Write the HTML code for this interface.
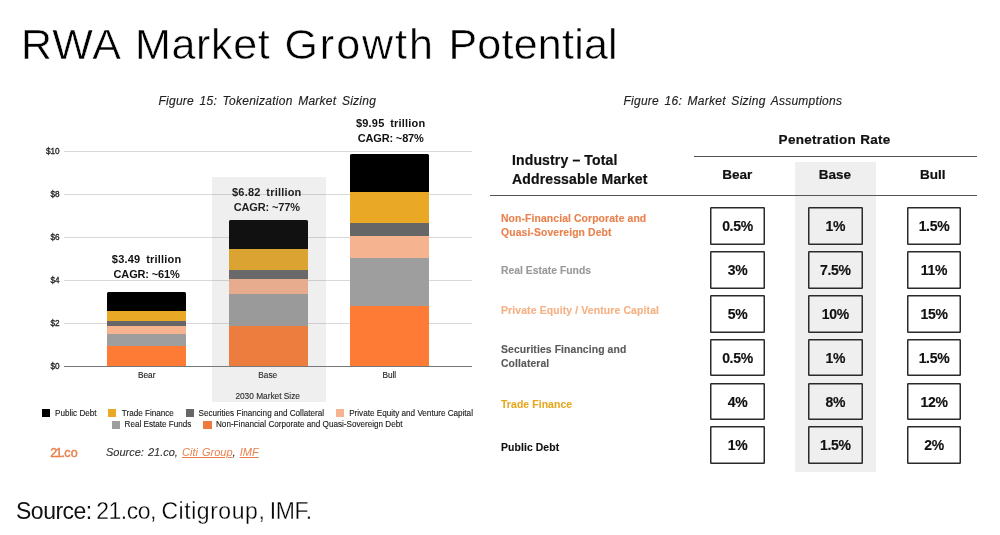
<!DOCTYPE html>
<html lang="en">
<head>
<meta charset="utf-8">
<title>RWA Market Growth Potential</title>
<style>
html,body{margin:0;padding:0;background:#fff;}
body{width:1000px;height:535px;position:relative;overflow:hidden;font-family:"Liberation Sans",sans-serif;color:#111;}
.abs{position:absolute;white-space:nowrap;line-height:1;}
.abs span.w{position:absolute;top:0;}
h1.title{position:absolute;left:0;top:23px;margin:0;font-weight:normal;font-size:43px;line-height:1;white-space:nowrap;color:#000;-webkit-text-stroke:0.5px #fff;}
h1.title span{position:absolute;top:0;}
.figcap{font-style:italic;font-size:12px;color:#222;-webkit-text-stroke:0.15px #222;letter-spacing:0.25px;word-spacing:2px;}
.grid{position:absolute;left:64px;width:408px;height:1px;background:#d8d8d8;}
.ylab{position:absolute;width:30px;text-align:right;left:29.6px;font-size:8.2px;color:#222;line-height:1;-webkit-text-stroke:0.3px #222;margin-top:0.6px;}
.bar{position:absolute;width:79px;}
.bar i{display:block;position:absolute;left:0;width:100%;}
.c-black{background:#000;}
.c-yellow{background:#e9a825;}
.c-dgrey{background:#666;}
.c-peach{background:#f6b38f;}
.c-grey{background:#9e9e9e;}
.c-orange{background:#fd7b35;}
.barlab{font-size:11px;font-weight:bold;text-align:center;line-height:15px;color:#111;width:120px;}
.barlab .l1{letter-spacing:0.2px;word-spacing:2.5px;}
.barlab .l2{letter-spacing:-0.15px;}
.xlab{font-size:8.3px;color:#1a1a1a;-webkit-text-stroke:0.12px #1a1a1a;text-align:center;width:120px;}
.leg{font-size:8.13px;color:#1a1a1a;-webkit-text-stroke:0.12px #1a1a1a;}
.sq{position:absolute;width:8.2px;height:8px;}
.hl{position:absolute;background:rgba(131,131,131,0.13);}
.src{font-style:italic;font-size:11px;color:#333;word-spacing:1px;}
.src b{font-weight:normal;-webkit-text-stroke:0.12px #333;}
.src u{color:#e8814d;}
.foot{font-size:23px;color:#111;left:0;top:500px;}
.foot .lt{-webkit-text-stroke:0.3px #fff;color:#000;}
.th{font-weight:bold;font-size:13.5px;color:#111;-webkit-text-stroke-width:0.2px;}
.hr{position:absolute;height:1px;background:#555;}
.rl{-webkit-text-stroke-width:0.12px;font-weight:bold;font-size:10.4px;line-height:13.9px;left:501px;letter-spacing:0.1px;}
.box{position:absolute;width:54.8px;height:37.8px;box-shadow:inset 0 0 0 1.5px #2a2a2a;border-radius:1.2px;font-weight:bold;font-size:14px;letter-spacing:-0.3px;text-align:center;line-height:38.9px;color:#111;-webkit-text-stroke:0.15px #111;}
.b1{left:710.1px;} .b2{left:807.9px;} .b3{left:906.6px;}
.r1{top:207.3px;} .r2{top:251.1px;} .r3{top:294.9px;} .r4{top:338.7px;} .r5{top:382.5px;} .r6{top:426.3px;}
</style>
</head>
<body>
<h1 class="title"><span style="left:21px;letter-spacing:0.95px;">RWA</span> <span style="left:135px;letter-spacing:0.68px;">Market</span> <span style="left:284.4px;letter-spacing:2.0px;">Growth</span> <span style="left:448.4px;letter-spacing:0.24px;">Potential</span></h1>

<!-- Figure 15 -->
<div class="abs figcap" style="left:158.5px;top:95.2px;">Figure 15: Tokenization Market Sizing</div>

<div class="grid" style="top:151px;"></div>
<div class="grid" style="top:194px;"></div>
<div class="grid" style="top:237px;"></div>
<div class="grid" style="top:280px;"></div>
<div class="grid" style="top:323px;"></div>
<div class="ylab" style="top:147.7px;">$10</div>
<div class="ylab" style="top:190.7px;">$8</div>
<div class="ylab" style="top:233.7px;">$6</div>
<div class="ylab" style="top:276.6px;">$4</div>
<div class="ylab" style="top:319.6px;">$2</div>
<div class="ylab" style="top:362.6px;">$0</div>

<div class="bar" style="left:107px;top:291.7px;height:74.5px;">
  <i class="c-black" style="top:0;height:20px;border-radius:1.5px 1.5px 0 0;"></i>
  <i class="c-yellow" style="top:19.3px;height:10.7px;"></i>
  <i class="c-dgrey" style="top:29.7px;height:5.3px;"></i>
  <i class="c-peach" style="top:34.5px;height:8.2px;"></i>
  <i class="c-grey" style="top:42.3px;height:12.7px;"></i>
  <i class="c-orange" style="top:54.5px;height:20px;"></i>
</div>
<div class="bar" style="left:228.8px;top:220.2px;height:146px;">
  <i class="c-black" style="top:0;height:30px;border-radius:1.5px 1.5px 0 0;"></i>
  <i class="c-yellow" style="top:29.2px;height:21px;"></i>
  <i class="c-dgrey" style="top:49.8px;height:10px;"></i>
  <i class="c-peach" style="top:59.1px;height:15px;"></i>
  <i class="c-grey" style="top:73.8px;height:32.2px;"></i>
  <i class="c-orange" style="top:105.7px;height:40.3px;"></i>
</div>
<div class="bar" style="left:350.2px;top:153.8px;height:212.4px;width:78.6px;">
  <i class="c-black" style="top:0;height:39px;border-radius:1.5px 1.5px 0 0;"></i>
  <i class="c-yellow" style="top:38.3px;height:31px;"></i>
  <i class="c-dgrey" style="top:68.8px;height:14px;"></i>
  <i class="c-peach" style="top:82.6px;height:22.5px;"></i>
  <i class="c-grey" style="top:104.7px;height:47.5px;"></i>
  <i class="c-orange" style="top:152px;height:60.4px;"></i>
</div>
<div class="grid" style="top:366px;background:#777;"></div>

<div class="abs barlab" style="left:86.6px;top:251.7px;"><span class="l1">$3.49 trillion</span><br><span class="l2">CAGR: ~61%</span></div>
<div class="abs barlab" style="left:206.8px;top:185px;"><span class="l1">$6.82 trillion</span><br><span class="l2">CAGR: ~77%</span></div>
<div class="abs barlab" style="left:330.7px;top:115.7px;"><span class="l1">$9.95 trillion</span><br><span class="l2">CAGR: ~87%</span></div>

<div class="abs xlab" style="left:86.7px;top:370.8px;">Bear</div>
<div class="abs xlab" style="left:207.8px;top:370.8px;">Base</div>
<div class="abs xlab" style="left:329.3px;top:370.8px;">Bull</div>
<div class="abs xlab" style="left:207.7px;top:392px;">2030 Market Size</div>

<div class="hl" style="left:212px;top:177.2px;width:114.4px;height:224.8px;"></div>

<!-- legend -->
<div class="sq c-black" style="left:41.7px;top:409.4px;"></div>
<div class="abs leg" style="left:55px;top:409.9px;">Public Debt</div>
<div class="sq c-yellow" style="left:108.2px;top:409.4px;"></div>
<div class="abs leg" style="left:121.8px;top:409.9px;">Trade Finance</div>
<div class="sq c-dgrey" style="left:185.5px;top:409.4px;"></div>
<div class="abs leg" style="left:198.5px;top:409.9px;">Securities Financing and Collateral</div>
<div class="sq c-peach" style="left:336.2px;top:409.4px;"></div>
<div class="abs leg" style="left:349.2px;top:409.9px;">Private Equity and Venture Capital</div>
<div class="sq c-grey" style="left:111.8px;top:420.8px;"></div>
<div class="abs leg" style="left:124.6px;top:420.9px;">Real Estate Funds</div>
<div class="sq" style="left:203.4px;top:420.8px;background:#ee7a40;"></div>
<div class="abs leg" style="left:216px;top:420.9px;">Non-Financial Corporate and Quasi-Sovereign Debt</div>

<div class="abs logo" style="left:50.3px;top:446.5px;font-size:12.5px;color:#e8814d;-webkit-text-stroke:0.45px #e8814d;"><span style="letter-spacing:-1.7px">2</span><span style="letter-spacing:-0.9px">1.</span><span style="letter-spacing:0.4px">co</span></div>
<div class="abs src" style="left:106px;top:447.3px;"><b>Source: 21.co,</b> <u>Citi Group</u><b>,</b> <u>IMF</u></div>

<div class="abs foot"><span class="w" style="left:16px;letter-spacing:-0.5px;">Source:</span> <span class="w lt" style="left:96.3px;letter-spacing:-0.52px;">21.co,</span> <span class="w lt" style="left:161.4px;letter-spacing:0.55px;">Citigroup,</span> <span class="w lt" style="left:269.8px;letter-spacing:-0.37px;">IMF.</span></div>

<!-- Figure 16 -->
<div class="abs figcap" style="left:623.5px;top:95.2px;">Figure 16: Market Sizing Assumptions</div>
<div class="abs th" style="left:778.6px;top:133.3px;letter-spacing:0.3px;">Penetration Rate</div>
<div class="hr" style="left:693.5px;top:156.3px;width:283.5px;"></div>
<div class="hl" style="left:794.9px;top:162px;width:81.6px;height:309.5px;"></div>
<div class="abs th" style="left:512px;top:151.1px;line-height:18.7px;font-size:14px;letter-spacing:0.14px;">Industry – Total<br>Addressable Market</div>
<div class="abs th" style="left:707.3px;width:60px;text-align:center;top:168.3px;">Bear</div>
<div class="abs th" style="left:804.9px;width:60px;text-align:center;top:168.3px;">Base</div>
<div class="abs th" style="left:902.7px;width:60px;text-align:center;top:168.3px;">Bull</div>
<div class="hr" style="left:490px;top:195.2px;width:487px;"></div>

<div class="abs rl" style="top:212px;color:#e8814d;">Non-Financial Corporate and<br>Quasi-Sovereign Debt</div>
<div class="abs rl" style="top:263.9px;color:#999;letter-spacing:0;">Real Estate Funds</div>
<div class="abs rl" style="top:303.5px;color:#f4b183;letter-spacing:0.14px;">Private Equity / Venture Capital</div>
<div class="abs rl" style="top:342.9px;color:#595959;">Securities Financing and<br>Collateral</div>
<div class="abs rl" style="top:397.7px;color:#e5a823;">Trade Finance</div>
<div class="abs rl" style="top:440.7px;color:#111;">Public Debt</div>

<div class="box b1 r1">0.5%</div><div class="box b2 r1">1%</div><div class="box b3 r1">1.5%</div>
<div class="box b1 r2">3%</div><div class="box b2 r2">7.5%</div><div class="box b3 r2">11%</div>
<div class="box b1 r3">5%</div><div class="box b2 r3">10%</div><div class="box b3 r3">15%</div>
<div class="box b1 r4">0.5%</div><div class="box b2 r4">1%</div><div class="box b3 r4">1.5%</div>
<div class="box b1 r5">4%</div><div class="box b2 r5">8%</div><div class="box b3 r5">12%</div>
<div class="box b1 r6">1%</div><div class="box b2 r6">1.5%</div><div class="box b3 r6">2%</div>
</body>
</html>
